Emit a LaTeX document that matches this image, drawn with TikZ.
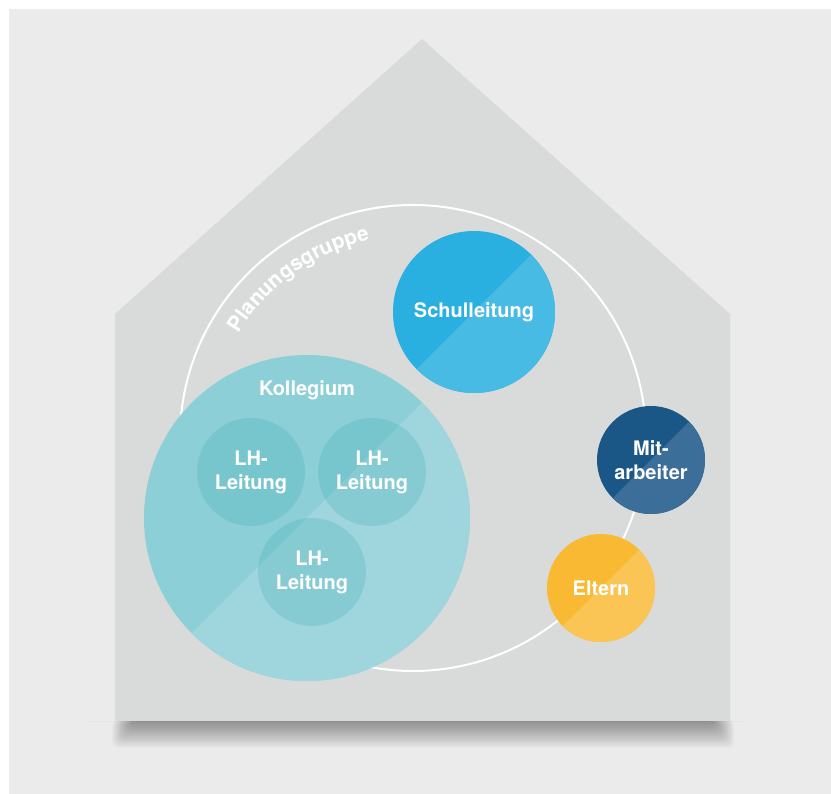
\documentclass[tikz,border=0pt]{standalone}
\usepackage{fontspec}
\setmainfont{TeX Gyre Heros}
\usetikzlibrary{positioning,decorations.text}

\definecolor{bggray}{HTML}{EBEBEB}
\definecolor{housegray}{HTML}{D9DBDA}
\definecolor{schuldark}{HTML}{29B0E0}
\definecolor{schullight}{HTML}{48BBE5}
\definecolor{kolldark}{HTML}{8DCFD7}
\definecolor{kolllight}{HTML}{9FD6DE}
\definecolor{lhtint}{RGB}{36,162,165}
\definecolor{mitdark}{HTML}{1A5787}
\definecolor{mitlight}{HTML}{3B6F99}
\definecolor{elterndark}{HTML}{F9B932}
\definecolor{elternlight}{HTML}{FBC555}

\begin{document}
\begin{tikzpicture}[x=1pt,y=1pt,
                    every node/.style={text=white,align=center,
                      font=\fontsize{20}{24}\selectfont\bfseries},
                    split/.style 2 args={circle,inner sep=0pt,fill=#1,
                      path picture={\fill[#2] (path picture bounding box.north east)
                        -- (path picture bounding box.south west)
                        -- (path picture bounding box.south east) -- cycle;}}]
  \tikzstyle{lh}=[circle,inner sep=0pt,minimum size=108pt,fill=lhtint,
                  fill opacity=.2,text opacity=1]

  % page and background
  \useasboundingbox (0,0) rectangle (831,794);
  \fill[white] (0,0) rectangle (831,794);
  \fill[bggray] (9,0) rectangle (831,785);

  % floor and shadow
  \draw[black!10,line width=.8pt] (87,73) -- (745,73);
  \foreach \i in {1,...,12}
    \fill[black,opacity=.035,rounded corners=6pt]
      (134-1.8*\i,74) rectangle (712+1.8*\i,73-2.2*\i);

  % house
  \fill[housegray] (115,73) -- (115,480) -- (422,755) -- (730,480) -- (730,73) -- cycle;

  % Planungsgruppe
  \node[circle,draw=white,line width=2pt,inner sep=0pt,minimum size=466pt] (plan) at (413,356) {};
  \path[font=\fontsize{21}{24}\selectfont\bfseries,
        decorate,decoration={text along path,text color=white,
        text={|\fontsize{21}{24}\selectfont\bfseries|Planungsgruppe}}]
    ([shift={(149:203)}]plan.center) arc[start angle=149,end angle=85,radius=203];

  \node[split={schuldark}{schullight},minimum size=162pt] (schul) at (474,482) {Schulleitung};

  % Kollegium
  \node[split={kolldark}{kolllight},minimum size=326pt] (koll) at (307,276) {};
  \node[below=22pt of koll.north] (kolltext) {Kollegium};
  \node[lh] (lh1) at (251,322) {LH-\\Leitung};
  \node[lh] (lh2) at (372,322) {LH-\\Leitung};
  \node[lh] (lh3) at (312,222) {LH-\\Leitung};

  \node[split={mitdark}{mitlight},minimum size=108pt] (mit) at (651,334) {Mit-\\arbeiter};
  \node[split={elterndark}{elternlight},minimum size=108pt] (eltern) at (601,206) {Eltern};
\end{tikzpicture}
\end{document}
